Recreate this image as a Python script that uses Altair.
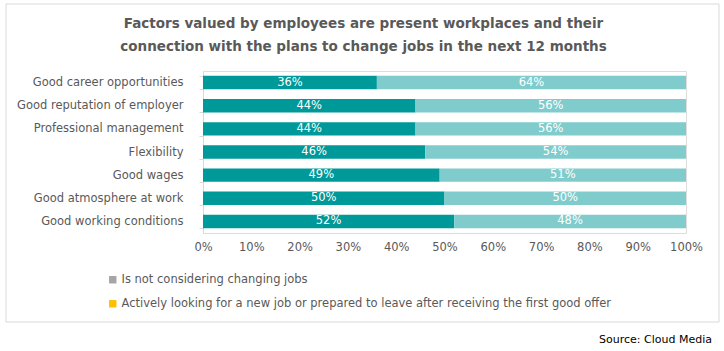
import altair as alt
import pandas as pd

categories = [
    "Good career opportunities",
    "Good reputation of employer",
    "Professional management",
    "Flexibility",
    "Good wages",
    "Good atmosphere at work",
    "Good working conditions",
]
series_names = [
    "Is not considering changing jobs",
    "Actively looking for a new job or prepared to leave after receiving the first good offer",
]
not_considering = [36, 44, 44, 46, 49, 50, 52]
actively_looking = [64, 56, 56, 54, 51, 50, 48]

bar_colors = ["#009999", "#80CCCC"]
legend_colors = ["#A5A5A5", "#FFC000"]
FONT = "DejaVu Sans"
TXT = "#595959"

rows = []
for i, c in enumerate(categories):
    a, b = not_considering[i], actively_looking[i]
    rows.append({"cat": c, "series": series_names[0], "order": 0,
                 "start": 0, "end": a, "mid": a / 2, "label": f"{a}%"})
    rows.append({"cat": c, "series": series_names[1], "order": 1,
                 "start": a, "end": a + b, "mid": a + b / 2, "label": f"{b}%"})
df = pd.DataFrame(rows)

W, H = 483, 162
TOP = 71

yenc = alt.Y("cat:N", sort=categories, title=None,
             scale=alt.Scale(paddingInner=0.42, paddingOuter=0.21),
             axis=alt.Axis(labelFont=FONT, labelFontSize=11.5, labelColor=TXT,
                           domainColor="#D9D9D9", tickColor="#D9D9D9", tickSize=4,
                           tickBand="extent", labelPadding=16, labelLimit=300))

xscale = alt.Scale(domain=[0, 100], nice=False)

bars = alt.Chart(df).mark_bar().encode(
    x=alt.X("start:Q", scale=xscale,
            axis=alt.Axis(values=list(range(0, 101, 10)), labelExpr="datum.value + '%'",
                          labelFont=FONT, labelFontSize=11.5, labelColor=TXT,
                          labelFlush=False,
                          domain=False, ticks=False, grid=False, labelPadding=8),
            title=None),
    x2="end:Q",
    y=yenc,
    color=alt.Color("series:N", scale=alt.Scale(domain=series_names, range=bar_colors),
                    legend=None),
    order="order:Q",
)

legend_layer = alt.Chart(df).mark_square(opacity=0).encode(
    x=alt.X("start:Q", scale=xscale),
    y=alt.Y("cat:N", sort=categories),
    fill=alt.Fill("series:N", scale=alt.Scale(domain=series_names, range=legend_colors),
                  legend=alt.Legend(title=None, orient="none", legendX=-96, legendY=203,
                                    direction="vertical", symbolType="square",
                                    symbolSize=55, symbolStrokeWidth=0, symbolOpacity=1,
                                    labelFont=FONT, labelFontSize=11.5, labelColor=TXT,
                                    labelLimit=700, rowPadding=11, labelOffset=3)),
)

labels = alt.Chart(df).mark_text(font=FONT, fontSize=11.5, color="white").encode(
    x="mid:Q",
    y=alt.Y("cat:N", sort=categories),
    text="label:N",
)

frame = alt.Chart(pd.DataFrame({"k": [0]})).mark_rect(
    fill=None, stroke="#D9D9D9", strokeWidth=1
).encode(x=alt.value(-197), x2=alt.value(516), y=alt.value(4 - TOP), y2=alt.value(322 - TOP))

source = alt.Chart(pd.DataFrame({"t": ["Source: Cloud Media"]})).mark_text(
    font=FONT, fontSize=11, color="#000000", align="right", baseline="middle"
).encode(x=alt.value(509), y=alt.value(340 - TOP), text="t:N")

chart = alt.layer(frame, bars, legend_layer, labels, source).resolve_scale(
    color="independent", fill="independent"
).properties(
    width=W, height=H,
    title=alt.TitleParams(
        ["Factors valued by employees are present workplaces and their",
         "connection with the plans to change jobs in the next 12 months"],
        font=FONT, fontSize=13.5, fontWeight="bold", color=TXT,
        anchor="middle", frame="group", dx=-81, offset=-49.5, lineHeight=23),
    autosize=alt.AutoSizeParams(type="none"),
    padding={"left": 203, "top": TOP, "right": 724 - 203 - W, "bottom": 351 - TOP - H},
).configure_view(stroke=None).configure(background="white")

chart.save("out.html", embed_options={"renderer": "svg", "actions": False})
